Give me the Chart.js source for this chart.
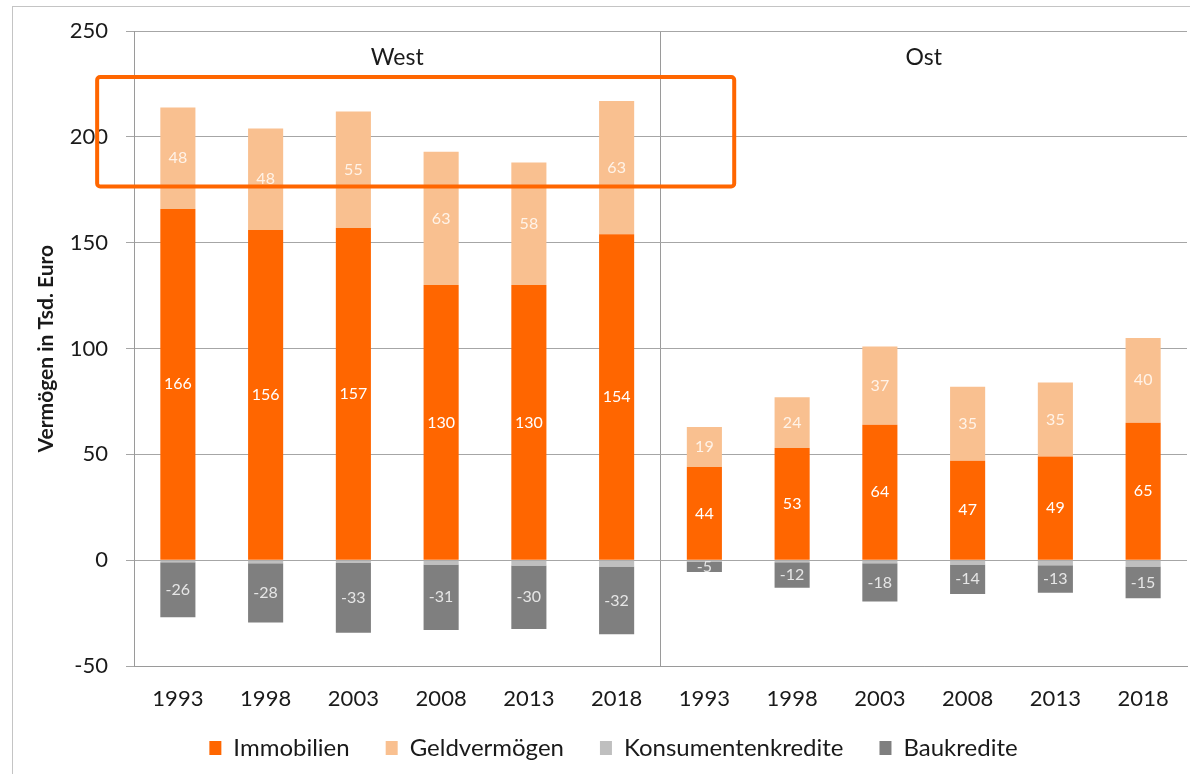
<!DOCTYPE html>
<html><head><meta charset="utf-8">
<script src="https://cdn.jsdelivr.net/npm/chart.js@4.4.0/dist/chart.umd.min.js"></script>
<style>
html,body{margin:0;padding:0;background:#fff;}
#wrap{position:relative;width:1190px;height:774px;overflow:hidden;}
#frame{position:absolute;left:12px;top:6px;right:-2px;bottom:-2px;border-left:1px solid #c4c4c4;border-top:1px solid #c4c4c4;pointer-events:none;}
canvas{position:absolute;left:0;top:0;}
</style></head><body>
<div id="wrap"><canvas id="c" width="1190" height="774"></canvas><div id="frame"></div></div>
<script>
// ---- data ----
const years = ['1993','1998','2003','2008','2013','2018','1993','1998','2003','2008','2013','2018'];
const groups = ['West','Ost'];
const immobilien = [166,156,157,130,130,154,44,53,64,47,49,65];
const geldvermoegen = [48,48,55,63,58,63,19,24,37,35,35,40];
const konsumentenkredite = [-1,-1.5,-1.3,-2,-2.5,-3,-0.6,-1,-1.5,-2,-2.4,-3];
const baukredite = [-26,-28,-33,-31,-30,-32,-5,-12,-18,-14,-13,-15];
const yTicks = [-50,0,50,100,150,200,250];
// highlight box (in data units: category index / value)
const highlightX = [-0.92, 6.34];
const highlightY = [228.3, 176.6];

const FONT = 'Lato';

const valuePlugin = {
  id:'vals',
  afterUpdate(chart){
    // let the x tick labels extend below the (compact) axis box
    const sx = chart.scales.x;
    if (sx) sx._computeLabelArea = function(){ return undefined; };
  },
  afterDatasetsDraw(chart){
    const ctx = chart.ctx;
    chart.data.datasets.forEach((ds,di)=>{
      if(!ds.valueColor) return;
      const meta = chart.getDatasetMeta(di);
      meta.data.forEach((bar,i)=>{
        const v = ds.data[i];
        const p = bar.getProps(['x','y','base'],true);
        ctx.save();
        ctx.fillStyle = ds.valueColor;
        ctx.font = '16px ' + FONT;
        ctx.textAlign='center'; ctx.textBaseline='middle';
        ctx.fillText(String(v), p.x, (p.y+p.base)/2);
        ctx.restore();
      });
    });
  }
};

const overlayPlugin = {
  id:'overlay',
  afterDraw(chart){
    const {ctx, scales:{x,y}} = chart;
    ctx.save();
    ctx.font = '23px ' + FONT; ctx.fillStyle='#1a1a1a';
    ctx.textAlign='center'; ctx.textBaseline='middle';
    groups.forEach((g,gi)=>{
      const cx = (x.getPixelForValue(gi*6) + x.getPixelForValue(gi*6+5))/2;
      ctx.fillText(g, cx, y.getPixelForValue(237.3));
    });
    const l = x.getPixelForValue(highlightX[0]), r = x.getPixelForValue(highlightX[1]);
    const t = y.getPixelForValue(highlightY[0]), b = y.getPixelForValue(highlightY[1]);
    ctx.strokeStyle='#FF6600'; ctx.lineWidth=4; ctx.lineJoin='round';
    ctx.beginPath();
    if (ctx.roundRect) ctx.roundRect(l,t,r-l,b-t,3); else ctx.rect(l,t,r-l,b-t);
    ctx.stroke();
    ctx.restore();
  }
};

function build(){
  new Chart(document.getElementById('c'), {
    type:'bar',
    data:{
      labels: years,
      datasets:[
        {label:'Immobilien', data:immobilien, backgroundColor:'#FF6600', valueColor:'#ffffff'},
        {label:'Geldvermögen', data:geldvermoegen, backgroundColor:'#F9C090', valueColor:'#fff3e8'},
        {label:'Konsumentenkredite', data:konsumentenkredite, backgroundColor:'#BFBFBF'},
        {label:'Baukredite', data:baukredite, backgroundColor:'#7F7F7F', valueColor:'#e6e6e6'}
      ]
    },
    options:{
      responsive:false, animation:false,
      devicePixelRatio:1,
      datasets:{bar:{barPercentage:0.4, categoryPercentage:1}},
      layout:{padding:{top:30, right:3, left:40, bottom:4}},
      plugins:{
        tooltip:{enabled:false},
        legend:{position:'bottom',
          labels:{font:{family:FONT,size:24}, color:'#1a1a1a', boxWidth:12, boxHeight:14, padding:36}}
      },
      scales:{
        x:{stacked:true,
          afterFit(s){ s.height = 34; },
          grid:{offset:true, drawTicks:false, lineWidth:1,
            color:(c)=> (c.index===6||c.index===12)?'#9a9a9a':'rgba(0,0,0,0)'},
          border:{display:true,color:'#9a9a9a'},
          ticks:{font:{family:FONT,size:22}, color:'#1a1a1a', padding:20, maxRotation:0, autoSkip:false}
        },
        y:{stacked:true, min:-50, max:250,
          afterBuildTicks(s){ s.ticks = yTicks.map(v=>({value:v})); },
          afterFit(s){ s.width = 94; },
          grid:{color:'#a6a6a6', tickLength:8},
          border:{color:'#9a9a9a'},
          ticks:{font:{family:FONT,size:22}, color:'#1a1a1a', padding:18},
          title:{display:true, text:'Vermögen in Tsd. Euro', color:'#1a1a1a',
            font:{family:FONT,size:21,weight:'bold'}, padding:{top:-6,bottom:0}}
        }
      }
    },
    plugins:[valuePlugin, overlayPlugin]
  });
}
if (document.fonts && document.fonts.load) {
  Promise.all([document.fonts.load('22px Lato'), document.fonts.load('bold 21px Lato')]).then(build, build);
} else build();
</script>
</body></html>
